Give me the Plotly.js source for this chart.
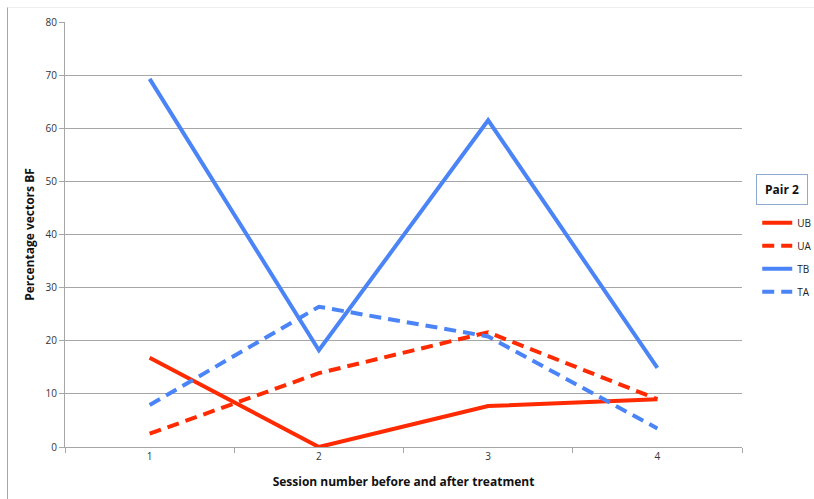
<!DOCTYPE html>
<html>
<head>
<meta charset="utf-8">
<script src="https://cdn.plot.ly/plotly-3.0.1.min.js"></script>
<style>
  html, body { margin: 0; padding: 0; background: #fff; }
  #chart { position: absolute; left: 0; top: 0; width: 814px; height: 499px; }
  #frame { position: absolute; left: 7px; top: 7px; width: 807px; height: 492px; z-index: 5;
           pointer-events: none;
           border-left: 1px solid #a6a6a6; border-top: 1px solid #eeeeee; }
</style>
</head>
<body>
<div id="chart"></div>
<div id="frame"></div>
<script>
// Session numbers (before and after treatment)
const sessions = ['1', '2', '3', '4'];

// Percentage of vectors BF per series, pair 2
const UB = [16.8, 0.0, 7.7, 9.0];
const UA = [2.5, 13.9, 21.6, 9.0];
const TB = [69.3, 18.2, 61.5, 14.9];
const TA = [7.9, 26.4, 20.8, 3.5];

const red = '#ff2a00';
const blue = '#4a84f6';

function series(name, y, color, dash) {
  return {
    type: 'scatter', mode: 'lines', name: name, legendgroup: name,
    x: sessions, y: y,
    line: { color: color, width: 4, dash: dash }
  };
}

const traces = [
  series('UB', UB, red, 'solid'),
  series('UA', UA, red, '12px,7px'),
  series('TB', TB, blue, 'solid'),
  series('TA', TA, blue, '12px,7px')
];

const font = '"Open Sans", "Liberation Sans", sans-serif';

const layout = {
  width: 814, height: 499,
  margin: { l: 65, r: 72, t: 22, b: 52, autoexpand: false },
  paper_bgcolor: 'rgba(0,0,0,0)', plot_bgcolor: '#ffffff',
  font: { family: font, size: 10, color: '#333333' },
  showlegend: true,
  legend: {
    x: 1.0225, y: 0.5615, xanchor: 'left', yanchor: 'top',
    font: { family: font, size: 10, color: '#222' },
    tracegroupgap: 4, itemwidth: 30,
    bgcolor: 'rgba(0,0,0,0)'
  },
  xaxis: {
    type: 'category', range: [-0.5, 3.5],
    showgrid: false, zeroline: false,
    showline: true, linecolor: '#a6a6a6', linewidth: 1,
    ticks: 'outside', tickson: 'boundaries', ticklen: 5, tickcolor: '#a6a6a6',
    tickfont: { size: 10, color: '#333' },
    title: { text: '<b>Session number before and after treatment</b>',
             font: { size: 12, color: '#111' }, standoff: 15 }
  },
  yaxis: {
    range: [0, 80], dtick: 10,
    showgrid: true, gridcolor: '#a6a6a6', gridwidth: 1,
    zeroline: false,
    showline: true, linecolor: '#a6a6a6', linewidth: 1,
    ticks: 'outside', ticklen: 5, tickcolor: '#a6a6a6',
    tickfont: { size: 10, color: '#333' },
    title: { text: '<b>Percentage vectors BF</b>',
             font: { size: 12, color: '#111' }, standoff: 8 }
  },
  annotations: [{
    xref: 'paper', yref: 'paper', x: 1.0595, y: 0.606,
    xanchor: 'center', yanchor: 'middle', showarrow: false,
    text: '<b>Pair 2</b>', font: { family: font, size: 12, color: '#111' },
    bordercolor: '#8eaad0', borderwidth: 1, borderpad: 6, bgcolor: '#ffffff',
    width: 38
  }]
};

Plotly.newPlot('chart', traces, layout, { displayModeBar: false, staticPlot: true });
</script>
</body>
</html>
